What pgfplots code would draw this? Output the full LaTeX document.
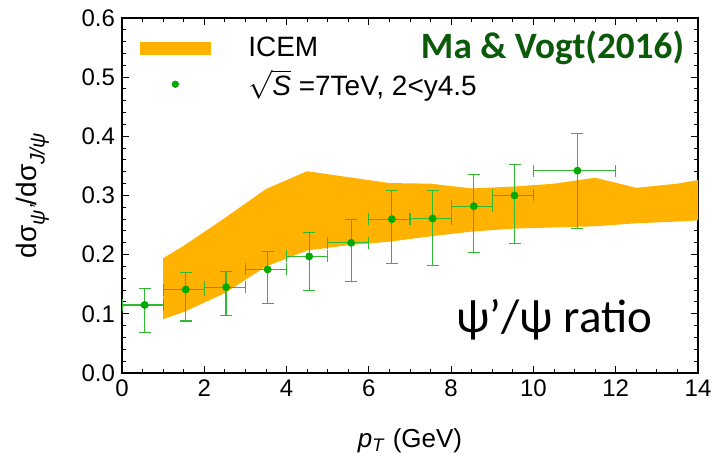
\documentclass[border=0pt]{standalone}
\usepackage{fontspec}
\setmainfont{Liberation Sans}
\newfontfamily\calfont{Carlito}
\usepackage{pgfplots}
\pgfplotsset{compat=1.18}
\definecolor{bandcol}{RGB}{255,178,0}
\definecolor{ptcol}{RGB}{0,170,0}
\definecolor{errcol}{RGB}{50,185,50}
\definecolor{titlecol}{RGB}{10,90,10}
\newcommand{\sub}[1]{\raisebox{-0.28em}{\fontsize{10.5}{10.5}\selectfont\itshape #1}}
\begin{document}
\begin{tikzpicture}
\path[use as bounding box] (-61pt,-48pt) rectangle (300pt,186.5pt);
\begin{axis}[
  scale only axis, width=288pt, height=177.5pt,
  xmin=0, xmax=14, ymin=0, ymax=0.6,
  xtick={0,2,...,14}, ytick={0,0.1,...,0.6},
  minor x tick num=3, minor y tick num=4,
  tick align=inside, tick pos=both,
  major tick length=3.5pt, minor tick length=2.2pt,
  axis line style={line width=0.75pt}, every tick/.style={black, line width=0.5pt},
  /pgf/number format/assume math mode=true,
  tick label style={font=\fontsize{12}{12}\selectfont},
  yticklabel style={/pgf/number format/.cd, fixed, fixed zerofill, precision=1},
  xlabel={\textit{p}\textsubscript{\textit{T}} (GeV)},
  xlabel style={font=\fontsize{13}{13}\selectfont, at={(axis description cs:0.5,-0.19)}, anchor=center},
  ylabel={dσ\sub{ψ'}/dσ\sub{J/ψ}},
  ylabel style={font=\fontsize{14}{14}\selectfont, at={(axis description cs:-0.155,0.5)}, anchor=center},
  legend style={at={(axis description cs:0.02,0.97)}, anchor=north west, draw=none, fill=none,
    font=\fontsize{14}{16}\selectfont, cells={anchor=west}, row sep=1pt},
  clip=true,
]
\addlegendimage{legend image code/.code={\fill[bandcol] (0pt,-3pt) rectangle (35pt,3pt); \path[draw=none,fill=none] (0pt,0pt) -- (52pt,0pt);}}
\addlegendentry{ICEM}
\addlegendimage{legend image code/.code={\fill[ptcol] (17.5pt,0pt) circle (1.6pt); \path[draw=none,fill=none] (0pt,0pt) -- (48pt,0pt);}}
\addlegendentry{$\sqrt{\textit{S}}$ =7TeV, 2<y4.5}

% ICEM band: upper edge forward, lower edge backward
\addplot[fill=bandcol, draw=none, forget plot] coordinates {
 (1.0,0.194) (1.5,0.215) (2.5,0.262) (3.5,0.311) (4.5,0.341) (5.5,0.331) (6.5,0.321)
 (7.5,0.320) (8.5,0.312) (9.5,0.315) (10.5,0.320) (11.5,0.330) (12.5,0.313) (13.5,0.320) (14.0,0.326)
 (14.0,0.258) (13.5,0.256) (12.5,0.253) (11.5,0.248) (10.5,0.246) (9.5,0.244) (8.5,0.239)
 (7.5,0.231) (6.5,0.222) (5.5,0.216) (4.5,0.207) (3.5,0.180) (2.5,0.135) (1.5,0.103) (1.0,0.091)
} -- cycle;

\addplot[only marks, mark=*, mark size=1.75pt, mark options={fill=ptcol, draw=ptcol}, forget plot,
  error bars/.cd, x dir=both, x explicit, y dir=both, y explicit,
  error bar style={errcol, line width=0.6pt},
  error mark options={rotate=90, errcol, line width=0.6pt, mark size=3pt}]
table[x=x, y=y, x error plus=exp, x error minus=exm, y error plus=eyp, y error minus=eym] {
x y exm exp eym eyp
0.55 0.115 0.55 0.45 0.047 0.028
1.55 0.141 0.55 0.45 0.053 0.029
2.53 0.145 0.53 0.47 0.048 0.026
3.54 0.175 0.54 0.46 0.057 0.031
4.55 0.197 0.55 0.45 0.057 0.040
5.57 0.220 0.57 0.43 0.066 0.039
6.56 0.260 0.56 0.44 0.075 0.048
7.55 0.261 0.55 0.45 0.079 0.048
8.55 0.282 0.55 0.45 0.079 0.053
9.54 0.300 0.54 0.46 0.081 0.052
11.07 0.342 1.07 0.93 0.098 0.063
};

\node[anchor=base east, font=\calfont\bfseries\fontsize{18.6}{20}\selectfont, text=titlecol, inner sep=0pt]
  at (axis cs:13.67,0.532) {Ma \& Vogt(2016)};
\node[anchor=base west, font=\calfont\fontsize{23.5}{25}\selectfont, inner sep=0pt]
  at (axis cs:8.12,0.069) {ψ’/ψ ratio};
\end{axis}
\end{tikzpicture}
\end{document}
